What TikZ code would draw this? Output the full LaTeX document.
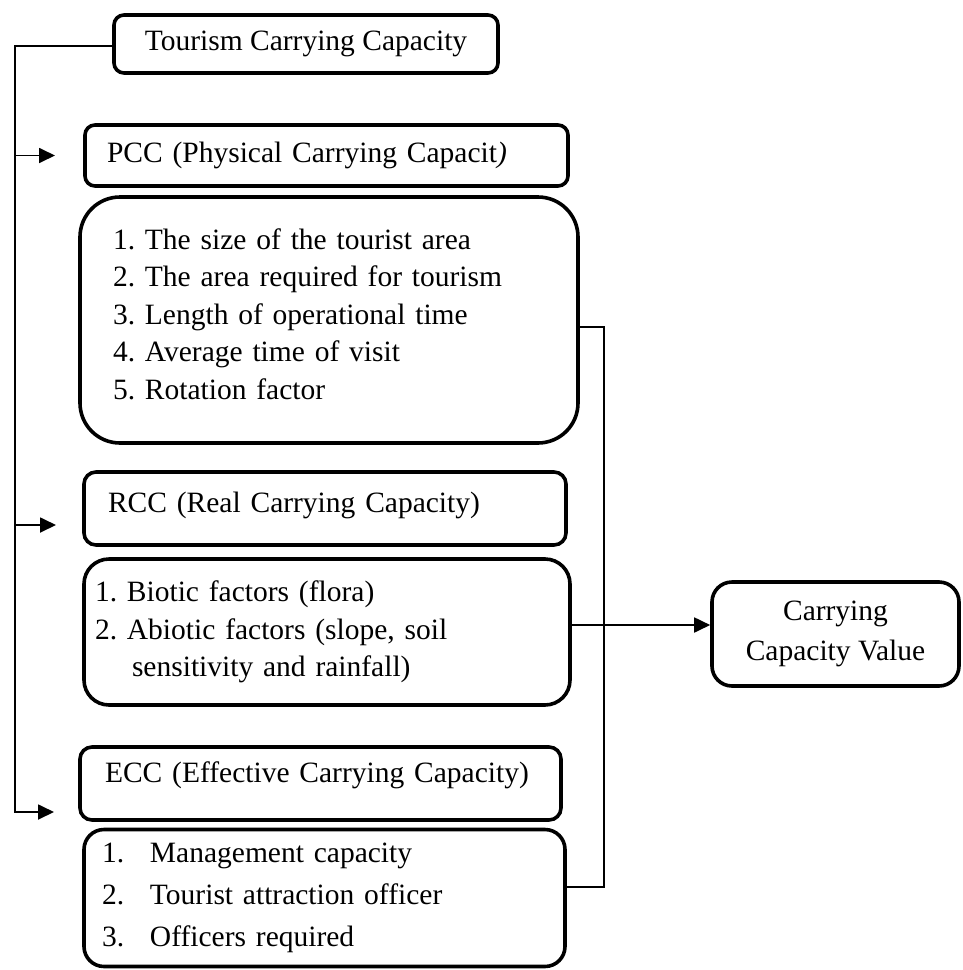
\documentclass[tikz,border=0pt]{standalone}
\usepackage{fontspec}
\setmainfont{Liberation Serif}
\usetikzlibrary{arrows.meta, calc}
\frenchspacing
\newcommand{\lowpad}[1]{\rule[-#1]{0pt}{#1}}
\tikzset{
  every picture/.style={line width=1.8pt},
  box/.style={draw, rounded corners=#1, line width=3.6pt, inner ysep=0pt, font=\fontsize{29.5}{37.5}\selectfont},
  box/.default=10pt,
  wire/.style={draw, line width=1.8pt},
  arrow/.style={-{Triangle[length=16pt, width=15pt]}, line width=1.8pt},
}

\begin{document}
\begin{tikzpicture}[x=1pt, y=-1pt]
  \useasboundingbox (0,0) rectangle (963,970);
  % ---------------- boxes
  \node[box, minimum width=384pt, minimum height=58pt] (tcc) at (306,44) {Tourism Carrying Capacity};
  \node[box, align=left, text width=439pt, inner xsep=22pt, minimum height=61pt] (pcc) at (326.5,155.5) {PCC (Physical Carrying Capacit\textit{)}};
  \node[box=40pt, align=left, text width=432pt, inner xsep=33pt, minimum height=246pt] (pcclist) at (329,320)
    {1. The size of the tourist area\\ 2. The area required for tourism\\ 3. Length of operational time\\ 4. Average time of visit\\ 5. Rotation factor\lowpad{12pt}};
  \node[box=12pt, align=left, text width=434pt, inner xsep=24pt, minimum height=73pt] (rcc) at (325,508.5) {RCC (Real Carrying Capacity)\lowpad{12pt}};
  \node[box=25pt, align=left, text width=464pt, inner xsep=11pt, minimum height=146pt] (rcclist) at (327,632)
    {1. Biotic factors (flora)\\ 2. Abiotic factors (slope, soil\\ \hspace*{37pt}sensitivity and rainfall)};
  \node[box=12pt, align=left, text width=431pt, inner xsep=25pt, minimum height=73pt] (ecc) at (320.5,783.5) {ECC (Effective Carrying Capacity)\lowpad{22pt}};
  \node[box=20pt, align=left, text width=445pt, inner xsep=18pt, minimum height=137pt, font=\fontsize{29.5}{42}\selectfont] (ecclist) at (324.5,898)
    {\makebox[48pt][l]{1.}Management capacity\\ \makebox[48pt][l]{2.}Tourist attraction officer\\ \makebox[48pt][l]{3.}Officers required};
  \node[box=20pt, align=center, minimum width=247pt, minimum height=104pt, font=\fontsize{29.5}{40}\selectfont] (ccv) at (835.5,634) {Carrying\\ Capacity Value};
  % ---------------- left spine
  \coordinate (sp1) at (15,46);
  \coordinate (pccin) at (55,155.5);
  \coordinate (rccin) at (56,525);
  \coordinate (eccin) at (54,812);
  \draw[arrow] (tcc.west |- sp1) -- (sp1) |- (eccin);
  \draw[arrow] (sp1 |- pccin) -- (pccin);
  \draw[arrow] (sp1 |- rccin) -- (rccin);
  % ---------------- right spine
  \coordinate (rs1) at (604,327);
  \coordinate (rs2) at (604,887);
  \coordinate (join) at (604,625);
  \draw[wire] (pcclist.east |- rs1) -- (rs1) -- (rs2) -- (ecclist.east |- rs2);
  \draw[wire] (rcclist.east |- join) -- (join);
  \draw[arrow] (join) -- (join -| ccv.west);
\end{tikzpicture}
\end{document}
